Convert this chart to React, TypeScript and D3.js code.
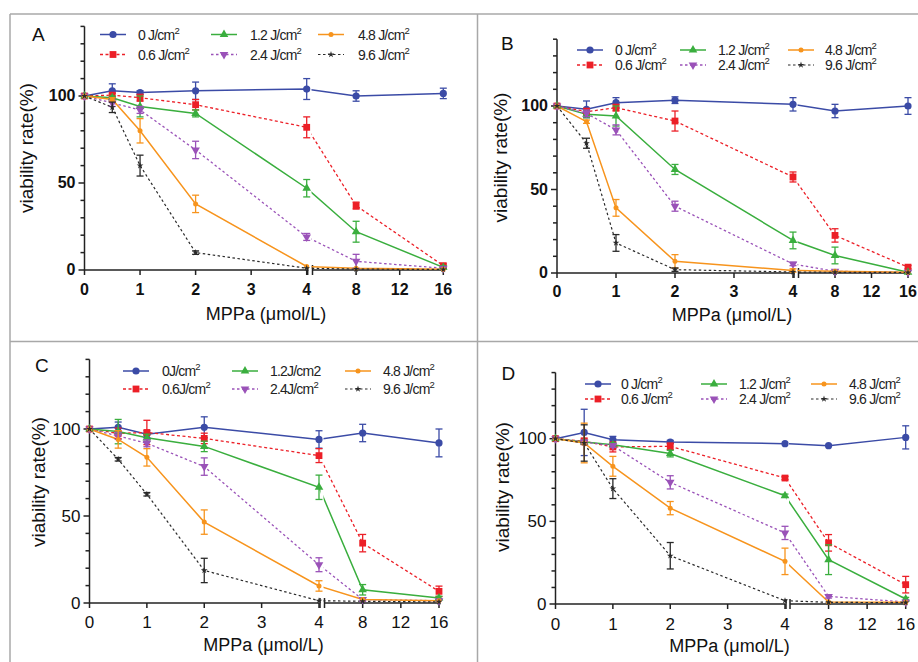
import React from 'react';
import * as d3 from 'd3';

// MPPa concentrations (µmol/L)
const doses = [0, 0.5, 1, 2, 4, 8, 16];
const xTicksLeft = [0, 1, 2, 3, 4];
const xTicksRight = [8, 12, 16];
const yLabelTicks = [0, 50, 100];
const yMinorTicks = d3.range(0, 141, 10);

// light doses: 0, 0.6, 1.2, 2.4, 4.8, 9.6 J/cm2
const legendStd = ['0 J/cm^2', '0.6 J/cm^2', '1.2 J/cm^2', '2.4 J/cm^2', '4.8 J/cm^2', '9.6 J/cm^2'];
const legendC = ['0J/cm^2', '0.6J/cm^2', '1.2J/cm2', '2.4J/cm^2', '4.8 J/cm^2', '9.6 J/cm^2'];

const viabilityA = [
  [100, 103, 102, 103, 104, 100, 101.5],
  [100, 100.5, 99, 95, 82, 37, 2.5],
  [100, 99, 94, 90, 47, 22, 1.5],
  [100, 96, 92, 69, 19, 5, 1],
  [100, 98, 80, 38, 2, 1, 0.5],
  [100, 93.5, 60, 10, 1, 0.5, 0.3],
];
const errorA = [
  [0, 4, 1, 5, 6, 3, 3],
  [0, 1, 2, 3, 6, 2, 1],
  [0, 1, 6, 2, 5, 6, 1],
  [0, 2, 2, 5, 2, 4, 0.5],
  [0, 1, 7, 5, 0.5, 0.5, 0.5],
  [0, 3, 6, 1, 0.5, 0.3, 0.2],
];

const viabilityB = [
  [100, 98, 102, 103.5, 101, 97, 100],
  [100, 96.6, 99, 91, 57.5, 22.5, 3.5],
  [100, 95, 94, 62, 19.5, 10.5, 0.5],
  [100, 95.6, 85.7, 40, 5.4, 1, 0.4],
  [100, 90.6, 39, 7, 1.5, 1, 0.5],
  [100, 77.7, 18, 2, 0.6, 0.4, 0.3],
];
const errorB = [
  [0, 5, 3, 2, 4, 4, 5],
  [0, 2, 2, 6, 3, 4, 1],
  [0, 2, 6, 3, 5, 5, 0.5],
  [0, 2, 3, 3, 1, 0.5, 0.3],
  [0, 1, 5, 4, 1, 0.5, 0.3],
  [0, 3, 5, 1, 0.3, 0.2, 0.2],
];

const viabilityC = [
  [100, 101, 97, 101, 94, 97.7, 92],
  [100, 97.5, 98, 94.6, 84.7, 34.4, 6.7],
  [100, 98.5, 95, 90, 66.5, 7.6, 2.9],
  [100, 96, 91.8, 78.4, 22, 2, 1.3],
  [100, 94, 83.7, 46.5, 9.8, 2, 1.3],
  [100, 82.6, 62.5, 18.7, 1.3, 1, 0.6],
];
const errorC = [
  [0, 3, 2, 6, 5, 5, 8],
  [0, 3, 7, 3, 4, 5, 3],
  [0, 7, 2, 3, 7, 3, 1],
  [0, 2, 2, 5, 4, 1, 0.5],
  [0, 5, 5, 7, 3, 0.5, 0.5],
  [0, 1, 1, 7, 0.5, 0.3, 0.3],
];

const viabilityD = [
  [100, 103.8, 99.4, 98, 97, 95.8, 100.8],
  [100, 98.4, 95, 95.4, 76.2, 37, 11.7],
  [100, 98, 96.4, 91, 65.5, 26.8, 3],
  [100, 98, 95.8, 73.6, 43, 4.6, 1.2],
  [100, 97.4, 83.3, 58, 25.8, 1.2, 1],
  [100, 97.4, 69.8, 29.2, 2, 1, 0.8],
];
const errorD = [
  [0, 14, 2, 1, 0.5, 0.5, 7],
  [0, 2, 3, 2, 1, 5, 5],
  [0, 1, 1, 2, 1, 9, 1],
  [0, 1, 1, 4, 4, 1, 0.5],
  [0, 12, 6, 4, 8, 0.5, 0.5],
  [0, 11, 6, 8, 0.5, 0.3, 0.3],
];

const colors = ['#3b4ba6', '#ec1f27', '#3aae3e', '#9a52b8', '#f7941d', '#2a2a2a'];
const dashes = [null, '3,2.5', null, '2.5,2.5', null, '2.5,2.5'];
const widths = [1.5, 1.3, 1.5, 1.3, 1.5, 1.2];
const shapes = ['circle', 'square', 'up', 'down', 'dot', 'star'];

const FONT = '"Liberation Sans", Arial, Helvetica, sans-serif';

const panels = [
  {
    id: 'A', values: viabilityA, errors: errorA, legend: legendStd,
    letterX: 32, letterY: 40.5, left: 84.5, x4: 306.7, seg2: 312.5, x16: 443.3, y0: 270, y100: 96,
    bold: true, tickFont: 15, xTickY: 295, xTitleX: 266, xTitleY: 320, yTitleX: 33, yTitleY: 148,
    rows: [34.5, 54.5], lineX: [100, 211, 318], textX: [138, 250, 358],
  },
  {
    id: 'B', values: viabilityB, errors: errorB, legend: legendStd,
    letterX: 501, letterY: 50, left: 557, x4: 793, seg2: 798.5, x16: 908, y0: 273, y100: 106,
    bold: true, tickFont: 15, xTickY: 296.5, xTitleX: 732, xTitleY: 321, yTitleX: 507, yTitleY: 157.5,
    rows: [50, 65], lineX: [577, 680, 788], textX: [615, 718, 825],
  },
  {
    id: 'C', values: viabilityC, errors: errorC, legend: legendC,
    letterX: 35, letterY: 371.5, left: 89.5, x4: 319, seg2: 324.5, x16: 439, y0: 603, y100: 429,
    bold: false, tickFont: 16, xTickY: 628, xTitleX: 263.5, xTitleY: 651, yTitleX: 44.5, yTitleY: 482,
    rows: [371, 389], lineX: [123, 232, 345], textX: [162, 270, 383],
  },
  {
    id: 'D', values: viabilityD, errors: errorD, legend: legendStd,
    letterX: 501.5, letterY: 379.5, left: 555.5, x4: 785, seg2: 790, x16: 905.7, y0: 604, y100: 438.7,
    bold: false, tickFont: 16, xTickY: 629.5, xTitleX: 729.5, xTitleY: 652, yTitleX: 509, yTitleY: 487,
    rows: [384, 399], lineX: [585, 701, 811], textX: [621, 739, 849],
  },
];

const Marker = ({ shape, x, y, color }) => {
  if (shape === 'circle') return <circle cx={x} cy={y} r={3.6} fill={color} />;
  if (shape === 'square') return <rect x={x - 3.4} y={y - 3.4} width={6.8} height={6.8} fill={color} />;
  if (shape === 'up') {
    const p = d3.symbol(d3.symbolTriangle, 32)();
    return <path d={p} transform={`translate(${x},${y})`} fill={color} />;
  }
  if (shape === 'down') {
    const p = d3.symbol(d3.symbolTriangle, 32)();
    return <path d={p} transform={`translate(${x},${y}) rotate(180)`} fill={color} />;
  }
  if (shape === 'dot') return <circle cx={x} cy={y} r={2.5} fill={color} />;
  const p = d3.symbol(d3.symbolStar, 14)();
  return <path d={p} transform={`translate(${x},${y})`} fill={color} />;
};

const Label = ({ text, x, y }) => {
  const [base, sup] = text.split('^');
  return (
    <text x={x} y={y} fontSize={14} fontFamily={FONT} fill="#222" letterSpacing={-0.8}>
      {base}
      {sup && (
        <tspan fontSize={9.5} dy={-6}>{sup}</tspan>
      )}
    </text>
  );
};

const Panel = ({ p }) => {
  const x1 = d3.scaleLinear().domain([0, 4]).range([p.left, p.x4]);
  const x2 = d3.scaleLinear().domain([4, 16]).range([p.seg2, p.x16]);
  const xPos = v => (v <= 4 ? x1(v) : x2(v));
  const y = d3.scaleLinear().domain([0, 100]).range([p.y0, p.y100]);
  const yTop = y(140);
  const line = d3.line().x(d => xPos(d[0])).y(d => y(d[1]));
  const weight = p.bold ? 'bold' : 'normal';
  const clipL = `clipL${p.id}`;
  const clipR = `clipR${p.id}`;

  return (
    <g>
      <defs>
        <clipPath id={clipL}>
          <rect x={0} y={yTop - 20} width={p.x4 + 1.5} height={p.y0 - yTop + 40} />
        </clipPath>
        <clipPath id={clipR}>
          <rect x={p.seg2 - 1} y={yTop - 20} width={918} height={p.y0 - yTop + 40} />
        </clipPath>
      </defs>

      <text x={p.letterX} y={p.letterY} fontSize={19} fontFamily={FONT} fill="#111">{p.id}</text>

      {/* axes */}
      <g stroke="#222" strokeWidth={1.5} fill="none">
        <line x1={p.left} x2={p.left} y1={yTop} y2={p.y0} />
        <line x1={p.left} x2={p.x4} y1={p.y0} y2={p.y0} />
        <line x1={p.seg2} x2={p.x16} y1={p.y0} y2={p.y0} />
        <line x1={p.x4 + 1} x2={p.x4 + 1} y1={p.y0 - 5} y2={p.y0 + 5} />
        <line x1={p.seg2} x2={p.seg2} y1={p.y0 - 5} y2={p.y0 + 5} />
        {yMinorTicks.map(t => (
          <line key={t} x1={p.left - (t % 50 === 0 ? 6 : 4)} x2={p.left} y1={y(t)} y2={y(t)} />
        ))}
        {xTicksLeft.map(t => (
          <line key={'l' + t} x1={x1(t)} x2={x1(t)} y1={p.y0} y2={p.y0 + 5} />
        ))}
        {xTicksRight.map(t => (
          <line key={'r' + t} x1={x2(t)} x2={x2(t)} y1={p.y0} y2={p.y0 + 5} />
        ))}
      </g>

      {yLabelTicks.map(t => (
        <text key={t} x={p.left - 9} y={y(t) + p.tickFont * 0.36} textAnchor="end"
          fontSize={p.tickFont + 1} fontWeight={weight} fontFamily={FONT} fill="#111">{t}</text>
      ))}
      {xTicksLeft.map(t => (
        <text key={'l' + t} x={x1(t)} y={p.xTickY} textAnchor="middle"
          fontSize={p.tickFont + 1} fontWeight={weight} fontFamily={FONT} fill="#111">{t}</text>
      ))}
      {xTicksRight.map(t => (
        <text key={'r' + t} x={x2(t)} y={p.xTickY} textAnchor="middle"
          fontSize={p.tickFont + 1} fontWeight={weight} fontFamily={FONT} fill="#111">{t}</text>
      ))}

      <text x={p.xTitleX} y={p.xTitleY} textAnchor="middle" fontSize={18} fontFamily={FONT} fill="#111">
        MPPa (μmol/L)
      </text>
      <text transform={`translate(${p.yTitleX},${p.yTitleY}) rotate(-90)`} textAnchor="middle"
        fontSize={19} fontFamily={FONT} fill="#111">
        viability rate(%)
      </text>

      {/* series lines */}
      {p.values.map((vals, i) => {
        const pts = doses.map((d, j) => [d, vals[j]]);
        const path = line(pts);
        return (
          <g key={'s' + i} fill="none" stroke={colors[i]} strokeWidth={widths[i]} strokeDasharray={dashes[i] || undefined}>
            <path d={path} clipPath={`url(#${clipL})`} />
            <path d={path} clipPath={`url(#${clipR})`} />
          </g>
        );
      })}

      {/* error bars + markers */}
      {p.values.map((vals, i) => (
        <g key={'m' + i}>
          {doses.map((d, j) => {
            const e = p.errors[i][j];
            const cx = xPos(d);
            return (
              <g key={j}>
                {e >= 1 && (
                  <g stroke={colors[i]} strokeWidth={1.3}>
                    <line x1={cx} x2={cx} y1={y(vals[j] - e)} y2={y(vals[j] + e)} />
                    <line x1={cx - 3.5} x2={cx + 3.5} y1={y(vals[j] - e)} y2={y(vals[j] - e)} />
                    <line x1={cx - 3.5} x2={cx + 3.5} y1={y(vals[j] + e)} y2={y(vals[j] + e)} />
                  </g>
                )}
                <Marker shape={shapes[i]} x={cx} y={y(vals[j])} color={colors[i]} />
              </g>
            );
          })}
        </g>
      ))}

      {/* legend: column = pair of series */}
      {p.legend.map((lab, i) => {
        const col = Math.floor(i / 2);
        const row = i % 2;
        const ly = p.rows[row];
        const lx = p.lineX[col];
        return (
          <g key={'lg' + i}>
            <line x1={lx} x2={lx + 26} y1={ly} y2={ly} stroke={colors[i]} strokeWidth={widths[i]}
              strokeDasharray={dashes[i] || undefined} />
            <Marker shape={shapes[i]} x={lx + 13} y={ly} color={colors[i]} />
            <Label text={lab} x={p.textX[col]} y={ly + 5} />
          </g>
        );
      })}
    </g>
  );
};

export default function App() {
  return (
    <svg width={918} height={662} style={{ position: 'absolute', left: 0, top: 0, background: '#fff' }}>
      <rect width={918} height={662} fill="#fff" />
      <g stroke="#a8a8a8" strokeWidth={1.5}>
        <line x1={10} x2={918} y1={14} y2={14} />
        <line x1={10} x2={10} y1={14} y2={662} />
        <line x1={10} x2={918} y1={341.5} y2={341.5} />
        <line x1={477.5} x2={477.5} y1={14} y2={662} />
      </g>
      {panels.map(p => (
        <Panel key={p.id} p={p} />
      ))}
    </svg>
  );
}
